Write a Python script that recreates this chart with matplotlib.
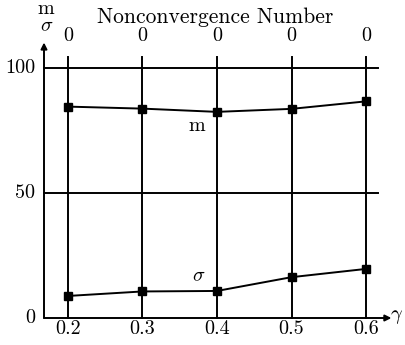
import numpy as np
import matplotlib
matplotlib.use("Agg")
from matplotlib import pyplot as plt

plt.rcParams['font.family'] = 'cmr10'
plt.rcParams['mathtext.fontset'] = 'cm'
plt.rcParams['axes.unicode_minus'] = False

# données
gamma = [0.2, 0.3, 0.4, 0.5, 0.6]
m_vals = [84.4, 83.6, 82.3, 83.5, 86.5]
sigma_vals = [8.8, 10.6, 10.8, 16.3, 19.6]
nonconv = [0, 0, 0, 0, 0]
yticks = [0, 50, 100]

xmin, xmax = 0.168, 0.616
ymin, ymax = 0, 109

fig = plt.figure(figsize=(4.05, 3.45), dpi=100)
ax = fig.add_axes([44/405, 27/345, (378-44)/405, (318-45)/345])
ax.set_xlim(xmin, xmax)
ax.set_ylim(ymin, ymax)
ax.axis('off')

lw = 1.4
# grille verticale
for g in gamma:
    ax.plot([g, g], [0, 104.4], color='black', lw=lw, clip_on=False)
# grille horizontale
for yv in yticks[1:]:
    ax.plot([xmin, xmax], [yv, yv], color='black', lw=lw, clip_on=False)

# axes avec flèches
ax.annotate('', xy=(0.634, 0), xytext=(xmin, 0),
            arrowprops=dict(arrowstyle='-|>', color='black', lw=lw,
                            mutation_scale=9, shrinkA=0, shrinkB=0),
            annotation_clip=False)
ax.annotate('', xy=(xmin, 110), xytext=(xmin, 0),
            arrowprops=dict(arrowstyle='-|>', color='black', lw=lw,
                            mutation_scale=9, shrinkA=0, shrinkB=0),
            annotation_clip=False)

# courbes
ax.plot(gamma, m_vals, color='black', lw=lw, marker='s', ms=5.5, clip_on=False)
ax.plot(gamma, sigma_vals, color='black', lw=lw, marker='s', ms=5.5, clip_on=False)

fs = 14.5
for g in gamma:
    ax.text(g, -4.4, '%.1f' % g, ha='center', va='center', fontsize=fs)
for g, n in zip(gamma, nonconv):
    ax.text(g, 112.4, str(n), ha='center', va='center', fontsize=fs)
for yv in yticks:
    ax.text(xmin - 0.012, yv, str(yv), ha='right', va='center', fontsize=fs)

ax.text(0.397, 120.2, 'Nonconvergence Number', ha='center', va='center', fontsize=15.5)
ax.text(0.373, 76.5, 'm', ha='center', va='center', fontsize=fs)
ax.text(0.376, 16.5, r'$\sigma$', ha='center', va='center', fontsize=fs)
ax.text(xmin + 0.003, 123.4, 'm', ha='center', va='center', fontsize=fs)
ax.text(xmin + 0.003, 116.4, r'$\sigma$', ha='center', va='center', fontsize=fs)
ax.text(0.650, 0.5, r'$\gamma$', ha='right', va='center', fontsize=fs)

fig.savefig('out.png', dpi=100)
